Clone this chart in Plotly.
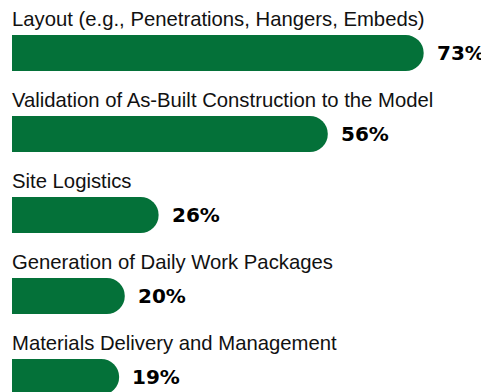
import plotly.graph_objects as go

categories = [
    "Layout (e.g., Penetrations, Hangers, Embeds)",
    "Validation of As-Built Construction to the Model",
    "Site Logistics",
    "Generation of Daily Work Packages",
    "Materials Delivery and Management",
]
values = [73, 56, 26, 20, 19]

green = "#047139"
pos = list(range(len(categories)))

fig = go.Figure(go.Bar(
    x=values,
    y=pos,
    orientation="h",
    marker=dict(color=green, line=dict(width=0), cornerradius="50%"),
    width=0.445,
    hoverinfo="skip",
))

# category label above each bar, value label to the right
for i, (cat, v) in enumerate(zip(categories, values)):
    fig.add_annotation(
        x=0, y=i - 0.42, text=cat, showarrow=False,
        xanchor="left", yanchor="middle", xshift=-2,
        font=dict(family="Liberation Sans, Arial", size=20.3, color="#111111"),
    )
    fig.add_annotation(
        x=v, y=i, text=f"<b>{v}%</b>", showarrow=False,
        xanchor="left", yanchor="middle", xshift=11,
        font=dict(family="DejaVu Sans", size=20, color="#000000"),
    )

# page has an 8px body margin, so the plot area is offset to compensate
fig.update_layout(
    width=489, height=392,
    margin=dict(l=4, r=0, t=0, b=0),
    plot_bgcolor="white", paper_bgcolor="white",
    showlegend=False,
    xaxis=dict(range=[0, 86.0], visible=False, fixedrange=True),
    yaxis=dict(range=[4.284, -0.556], visible=False, fixedrange=True),
)

fig.write_html("out.html")
